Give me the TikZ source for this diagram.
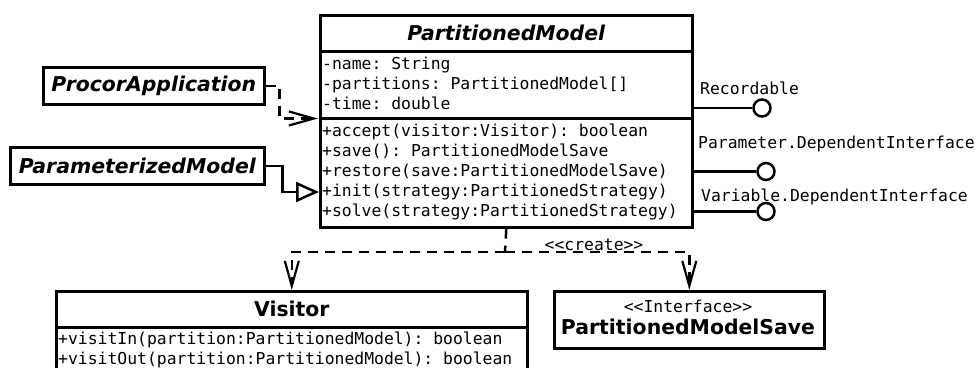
\documentclass[tikz,border=0pt]{standalone}
\usepackage{fontspec}
\setmainfont{DejaVu Sans}
\setmonofont{DejaVu Sans Mono}
\usetikzlibrary{arrows.meta}
\begin{document}
\begin{tikzpicture}[x=1pt,y=-1pt,
  box/.style={draw, line width=2.6pt, inner sep=0pt, anchor=north west},
  ttl/.style={font=\fontsize{20.4}{24}\selectfont\bfseries\itshape},
  ttlb/.style={font=\fontsize{20.4}{24}\selectfont\bfseries},
  mono/.style={font=\fontsize{16.4}{20}\selectfont\ttfamily, inner sep=0pt, anchor=base west},
  monoc/.style={font=\fontsize{16.4}{20}\selectfont\ttfamily, inner sep=0pt, anchor=base},
  lolli/.style={circle, draw, line width=2.5pt, minimum size=17pt, inner sep=0pt},
  conn/.style={line width=2.5pt},
  dep/.style={line width=2.5pt, dash pattern=on 10pt off 7pt},
  vtip/.style={-{Straight Barb[length=25pt, width=14pt, line width=2.2pt]}},
  gtip/.style={-{Triangle[open, length=23pt, width=20pt, fill=white]}}
]
\clip (0,0) rectangle (976,367);
\fill[white] (0,0) rectangle (976,367);

% PartitionedModel
\node[box, ttl, minimum width=372pt, minimum height=36pt] (pmT) at (319,14) {PartitionedModel};
\node[box, minimum width=372pt, minimum height=67pt] (pmA) at (319,50) {};
\node[box, minimum width=372pt, minimum height=109pt] (pmM) at (319,117) {};
\node[mono] (a1) at (322,69) {-name: String};
\node[mono] (a2) at (322,89) {-partitions: PartitionedModel[]};
\node[mono] (a3) at (322,109) {-time: double};
\node[mono] (m1) at (322,136) {+accept(visitor:Visitor): boolean};
\node[mono] (m2) at (322,156) {+save(): PartitionedModelSave};
\node[mono] (m3) at (322,176) {+restore(save:PartitionedModelSave)};
\node[mono] (m4) at (322,196) {+init(strategy:PartitionedStrategy)};
\node[mono] (m5) at (322,216) {+solve(strategy:PartitionedStrategy)};

% left classes
\node[box, ttl, minimum width=221pt, minimum height=37pt] (pa) at (42,66) {ProcorApplication};
\node[box, ttl, minimum width=254pt, minimum height=37pt] (pz) at (9,146) {ParameterizedModel};

% Visitor
\node[box, ttlb, minimum width=471pt, minimum height=36pt] (vT) at (55,290) {Visitor};
\node[box, minimum width=471pt, minimum height=52pt] (vM) at (55,326) {};
\node[mono] (v1) at (58,344) {+visitIn(partition:PartitionedModel): boolean};
\node[mono] (v2) at (58,364) {+visitOut(partition:PartitionedModel): boolean};

% PartitionedModelSave
\node[box, minimum width=270pt, minimum height=57pt] (pms) at (553,290) {};
\node[monoc] (pmsS) at (688,312) {<{}<Interface>{}>};
\node[ttlb, inner sep=0pt, anchor=base] (pmsN) at (688,334) {PartitionedModelSave};

% interfaces (lollipops)
\node[lolli] (rec) at (762,108) {};
\node[lolli] (par) at (766,171.5) {};
\node[lolli] (var) at (766,211.5) {};
\draw[conn] (pmA.east |- rec) -- (rec.west);
\draw[conn] (pmM.east |- par) -- (par.west);
\draw[conn] (pmM.east |- var) -- (var.west);
\node[mono] (recL) at (700,94) {Recordable};
\node[mono] (parL) at (698,148) {Parameter.DependentInterface};
\node[mono] (varL) at (701,201.5) {Variable.DependentInterface};

% dependency ProcorApplication -> PartitionedModel
\coordinate (dT) at (318,118.5);
\draw[dep, vtip] (pa.east) -- ++(14,0) |- (dT);

% generalization ParameterizedModel -> PartitionedModel
\coordinate (gT) at (319,192);
\draw[conn, gtip] (pz.east) -- ++(17,0) |- (gT);

% create dependencies
\coordinate (cj) at (505,252);
\draw[dep] (pmM.south) -- (cj);
\draw[dep, vtip] (cj) -| (vT.north);
\draw[dep, vtip] (cj) -| (pms.north);
\node[monoc] (cl) at (594,250) {<{}<create>{}>};
\end{tikzpicture}
\end{document}
